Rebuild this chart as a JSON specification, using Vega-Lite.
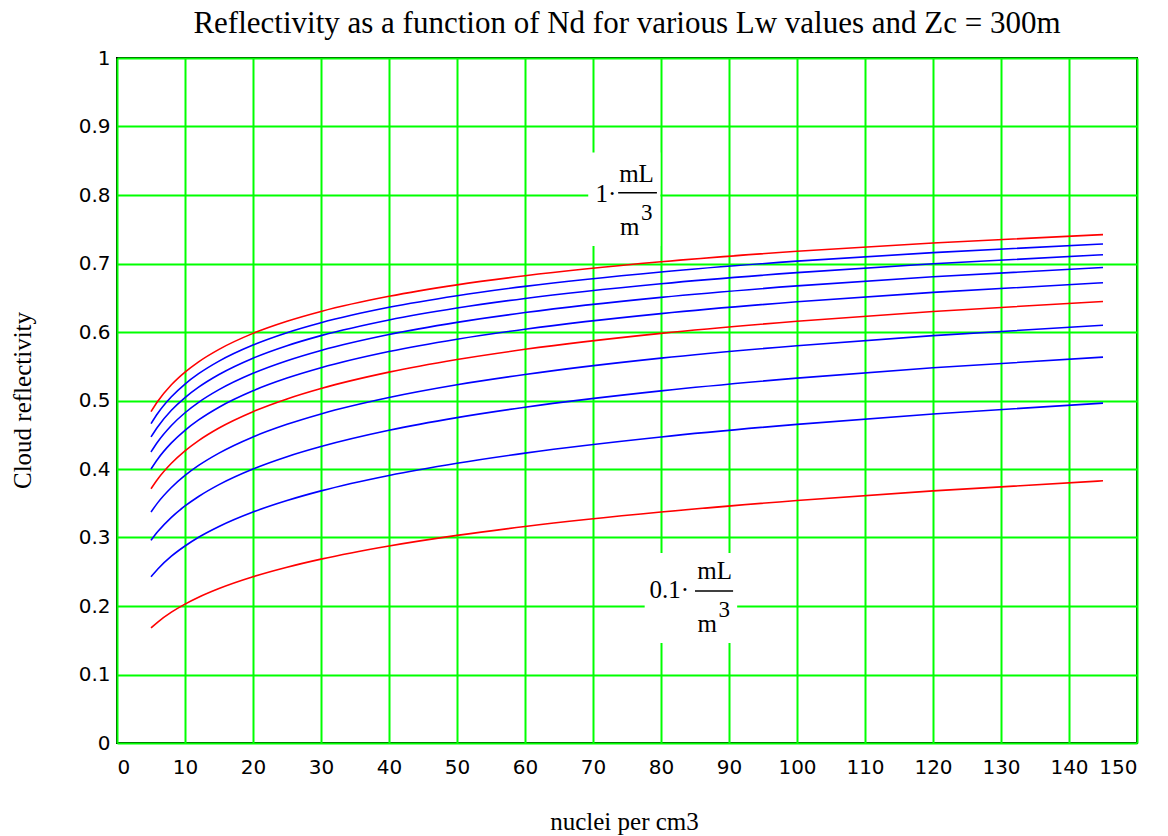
{
  "$schema": "https://vega.github.io/schema/vega-lite/v6.json",
  "width": 1020,
  "height": 685,
  "autosize": {"type": "none"},
  "padding": {"left": 117, "top": 58, "right": 31, "bottom": 93},
  "background": "white",
  "title": {
    "text": "Reflectivity as a function of Nd for various Lw values and Zc = 300m",
    "font": "Liberation Serif",
    "fontSize": 31,
    "fontWeight": "normal",
    "color": "black",
    "anchor": "middle",
    "frame": "group",
    "baseline": "alphabetic",
    "offset": 24,
    "dy": 40
  },
  "config": {
    "view": {"stroke": "black", "strokeWidth": 2},
    "axis": {
      "grid": true,
      "gridColor": "#00ff00",
      "gridWidth": 2,
      "gridOpacity": 1,
      "domain": false,
      "ticks": false,
      "labelFont": "DejaVu Sans",
      "labelFontSize": 20,
      "labelColor": "black",
      "titleFont": "Liberation Serif",
      "titleFontSize": 25,
      "titleFontWeight": "normal",
      "titleColor": "black"
    }
  },
  "datasets": {
    "curves": [
      {"nd": 5, "lw": "0.1", "r": 0.1680}, {"nd": 6, "lw": "0.1", "r": 0.1766}, {"nd": 8, "lw": "0.1", "r": 0.1910}, {"nd": 10, "lw": "0.1", "r": 0.2028}, {"nd": 12, "lw": "0.1", "r": 0.2128}, {"nd": 15, "lw": "0.1", "r": 0.2255}, {"nd": 20, "lw": "0.1", "r": 0.2427}, {"nd": 25, "lw": "0.1", "r": 0.2566}, {"nd": 30, "lw": "0.1", "r": 0.2684}, {"nd": 40, "lw": "0.1", "r": 0.2876}, {"nd": 50, "lw": "0.1", "r": 0.3031}, {"nd": 60, "lw": "0.1", "r": 0.3161}, {"nd": 80, "lw": "0.1", "r": 0.3372}, {"nd": 100, "lw": "0.1", "r": 0.3540}, {"nd": 120, "lw": "0.1", "r": 0.3680}, {"nd": 145, "lw": "0.1", "r": 0.3828},
      {"nd": 5, "lw": "0.2", "r": 0.2427}, {"nd": 6, "lw": "0.2", "r": 0.2541}, {"nd": 8, "lw": "0.2", "r": 0.2727}, {"nd": 10, "lw": "0.2", "r": 0.2876}, {"nd": 12, "lw": "0.2", "r": 0.3003}, {"nd": 15, "lw": "0.2", "r": 0.3161}, {"nd": 20, "lw": "0.2", "r": 0.3372}, {"nd": 25, "lw": "0.2", "r": 0.3540}, {"nd": 30, "lw": "0.2", "r": 0.3681}, {"nd": 40, "lw": "0.2", "r": 0.3906}, {"nd": 50, "lw": "0.2", "r": 0.4084}, {"nd": 60, "lw": "0.2", "r": 0.4232}, {"nd": 80, "lw": "0.2", "r": 0.4468}, {"nd": 100, "lw": "0.2", "r": 0.4652}, {"nd": 120, "lw": "0.2", "r": 0.4804}, {"nd": 145, "lw": "0.2", "r": 0.4961},
      {"nd": 5, "lw": "0.3", "r": 0.2958}, {"nd": 6, "lw": "0.3", "r": 0.3086}, {"nd": 8, "lw": "0.3", "r": 0.3294}, {"nd": 10, "lw": "0.3", "r": 0.3460}, {"nd": 12, "lw": "0.3", "r": 0.3599}, {"nd": 15, "lw": "0.3", "r": 0.3772}, {"nd": 20, "lw": "0.3", "r": 0.4000}, {"nd": 25, "lw": "0.3", "r": 0.4180}, {"nd": 30, "lw": "0.3", "r": 0.4328}, {"nd": 40, "lw": "0.3", "r": 0.4565}, {"nd": 50, "lw": "0.3", "r": 0.4750}, {"nd": 60, "lw": "0.3", "r": 0.4902}, {"nd": 80, "lw": "0.3", "r": 0.5141}, {"nd": 100, "lw": "0.3", "r": 0.5327}, {"nd": 120, "lw": "0.3", "r": 0.5478}, {"nd": 145, "lw": "0.3", "r": 0.5633},
      {"nd": 5, "lw": "0.4", "r": 0.3372}, {"nd": 6, "lw": "0.4", "r": 0.3509}, {"nd": 8, "lw": "0.4", "r": 0.3730}, {"nd": 10, "lw": "0.4", "r": 0.3906}, {"nd": 12, "lw": "0.4", "r": 0.4052}, {"nd": 15, "lw": "0.4", "r": 0.4232}, {"nd": 20, "lw": "0.4", "r": 0.4468}, {"nd": 25, "lw": "0.4", "r": 0.4652}, {"nd": 30, "lw": "0.4", "r": 0.4804}, {"nd": 40, "lw": "0.4", "r": 0.5043}, {"nd": 50, "lw": "0.4", "r": 0.5229}, {"nd": 60, "lw": "0.4", "r": 0.5380}, {"nd": 80, "lw": "0.4", "r": 0.5618}, {"nd": 100, "lw": "0.4", "r": 0.5800}, {"nd": 120, "lw": "0.4", "r": 0.5947}, {"nd": 145, "lw": "0.4", "r": 0.6098},
      {"nd": 5, "lw": "0.5", "r": 0.3712}, {"nd": 6, "lw": "0.5", "r": 0.3855}, {"nd": 8, "lw": "0.5", "r": 0.4084}, {"nd": 10, "lw": "0.5", "r": 0.4265}, {"nd": 12, "lw": "0.5", "r": 0.4415}, {"nd": 15, "lw": "0.5", "r": 0.4599}, {"nd": 20, "lw": "0.5", "r": 0.4837}, {"nd": 25, "lw": "0.5", "r": 0.5023}, {"nd": 30, "lw": "0.5", "r": 0.5175}, {"nd": 40, "lw": "0.5", "r": 0.5414}, {"nd": 50, "lw": "0.5", "r": 0.5598}, {"nd": 60, "lw": "0.5", "r": 0.5747}, {"nd": 80, "lw": "0.5", "r": 0.5980}, {"nd": 100, "lw": "0.5", "r": 0.6157}, {"nd": 120, "lw": "0.5", "r": 0.6300}, {"nd": 145, "lw": "0.5", "r": 0.6446},
      {"nd": 5, "lw": "0.6", "r": 0.4000}, {"nd": 6, "lw": "0.6", "r": 0.4147}, {"nd": 8, "lw": "0.6", "r": 0.4381}, {"nd": 10, "lw": "0.6", "r": 0.4565}, {"nd": 12, "lw": "0.6", "r": 0.4716}, {"nd": 15, "lw": "0.6", "r": 0.4902}, {"nd": 20, "lw": "0.6", "r": 0.5142}, {"nd": 25, "lw": "0.6", "r": 0.5327}, {"nd": 30, "lw": "0.6", "r": 0.5478}, {"nd": 40, "lw": "0.6", "r": 0.5714}, {"nd": 50, "lw": "0.6", "r": 0.5895}, {"nd": 60, "lw": "0.6", "r": 0.6041}, {"nd": 80, "lw": "0.6", "r": 0.6268}, {"nd": 100, "lw": "0.6", "r": 0.6441}, {"nd": 120, "lw": "0.6", "r": 0.6578}, {"nd": 145, "lw": "0.6", "r": 0.6719},
      {"nd": 5, "lw": "0.7", "r": 0.4249}, {"nd": 6, "lw": "0.7", "r": 0.4398}, {"nd": 8, "lw": "0.7", "r": 0.4635}, {"nd": 10, "lw": "0.7", "r": 0.4821}, {"nd": 12, "lw": "0.7", "r": 0.4973}, {"nd": 15, "lw": "0.7", "r": 0.5158}, {"nd": 20, "lw": "0.7", "r": 0.5397}, {"nd": 25, "lw": "0.7", "r": 0.5581}, {"nd": 30, "lw": "0.7", "r": 0.5731}, {"nd": 40, "lw": "0.7", "r": 0.5964}, {"nd": 50, "lw": "0.7", "r": 0.6141}, {"nd": 60, "lw": "0.7", "r": 0.6284}, {"nd": 80, "lw": "0.7", "r": 0.6506}, {"nd": 100, "lw": "0.7", "r": 0.6673}, {"nd": 120, "lw": "0.7", "r": 0.6806}, {"nd": 145, "lw": "0.7", "r": 0.6942},
      {"nd": 5, "lw": "0.8", "r": 0.4468}, {"nd": 6, "lw": "0.8", "r": 0.4618}, {"nd": 8, "lw": "0.8", "r": 0.4857}, {"nd": 10, "lw": "0.8", "r": 0.5043}, {"nd": 12, "lw": "0.8", "r": 0.5195}, {"nd": 15, "lw": "0.8", "r": 0.5380}, {"nd": 20, "lw": "0.8", "r": 0.5618}, {"nd": 25, "lw": "0.8", "r": 0.5800}, {"nd": 30, "lw": "0.8", "r": 0.5947}, {"nd": 40, "lw": "0.8", "r": 0.6176}, {"nd": 50, "lw": "0.8", "r": 0.6350}, {"nd": 60, "lw": "0.8", "r": 0.6490}, {"nd": 80, "lw": "0.8", "r": 0.6705}, {"nd": 100, "lw": "0.8", "r": 0.6867}, {"nd": 120, "lw": "0.8", "r": 0.6996}, {"nd": 145, "lw": "0.8", "r": 0.7127},
      {"nd": 5, "lw": "0.9", "r": 0.4662}, {"nd": 6, "lw": "0.9", "r": 0.4814}, {"nd": 8, "lw": "0.9", "r": 0.5054}, {"nd": 10, "lw": "0.9", "r": 0.5240}, {"nd": 12, "lw": "0.9", "r": 0.5391}, {"nd": 15, "lw": "0.9", "r": 0.5575}, {"nd": 20, "lw": "0.9", "r": 0.5810}, {"nd": 25, "lw": "0.9", "r": 0.5990}, {"nd": 30, "lw": "0.9", "r": 0.6135}, {"nd": 40, "lw": "0.9", "r": 0.6360}, {"nd": 50, "lw": "0.9", "r": 0.6530}, {"nd": 60, "lw": "0.9", "r": 0.6666}, {"nd": 80, "lw": "0.9", "r": 0.6876}, {"nd": 100, "lw": "0.9", "r": 0.7034}, {"nd": 120, "lw": "0.9", "r": 0.7159}, {"nd": 145, "lw": "0.9", "r": 0.7285},
      {"nd": 5, "lw": "1.0", "r": 0.4837}, {"nd": 6, "lw": "1.0", "r": 0.4989}, {"nd": 8, "lw": "1.0", "r": 0.5229}, {"nd": 10, "lw": "1.0", "r": 0.5414}, {"nd": 12, "lw": "1.0", "r": 0.5565}, {"nd": 15, "lw": "1.0", "r": 0.5747}, {"nd": 20, "lw": "1.0", "r": 0.5980}, {"nd": 25, "lw": "1.0", "r": 0.6157}, {"nd": 30, "lw": "1.0", "r": 0.6300}, {"nd": 40, "lw": "1.0", "r": 0.6521}, {"nd": 50, "lw": "1.0", "r": 0.6688}, {"nd": 60, "lw": "1.0", "r": 0.6821}, {"nd": 80, "lw": "1.0", "r": 0.7025}, {"nd": 100, "lw": "1.0", "r": 0.7178}, {"nd": 120, "lw": "1.0", "r": 0.7300}, {"nd": 145, "lw": "1.0", "r": 0.7422}
    ],
    "boxes": [
      {"x1": 69.3, "x2": 79.9, "y1": 0.862, "y2": 0.7255},
      {"x1": 77.6, "x2": 91.2, "y1": 0.2774, "y2": 0.146}
    ],
    "bars": [
      {"x1": 73.7, "x2": 79.4, "y": 0.8034},
      {"x1": 85.0, "x2": 90.6, "y": 0.2219}
    ],
    "labels": [
      {"x": 71.9, "y": 0.7902, "t": "1·"},
      {"x": 76.4, "y": 0.8194, "t": "mL"},
      {"x": 75.4, "y": 0.7416, "t": "m"},
      {"x": 81.2, "y": 0.2121, "t": "0.1·"},
      {"x": 87.9, "y": 0.2390, "t": "mL"},
      {"x": 86.8, "y": 0.1625, "t": "m"}
    ],
    "sups": [
      {"x": 77.9, "y": 0.7635, "t": "3"},
      {"x": 89.3, "y": 0.1844, "t": "3"}
    ]
  },
  "layer": [
    {
      "data": {"name": "curves"},
      "mark": {"type": "line", "strokeWidth": 1.6, "interpolate": "monotone"},
      "encoding": {
        "x": {
          "field": "nd", "type": "quantitative",
          "scale": {"domain": [0, 150], "nice": false},
          "axis": {
            "values": [0, 10, 20, 30, 40, 50, 60, 70, 80, 90, 100, 110, 120, 130, 140, 150],
            "format": "d",
            "labelPadding": 14,
            "title": "nuclei per cm3",
            "titleX": 507,
            "titleY": 86,
            "titleAnchor": "middle",
            "titleAlign": "center",
            "titleBaseline": "alphabetic"
          }
        },
        "y": {
          "field": "r", "type": "quantitative",
          "scale": {"domain": [0, 1], "nice": false},
          "axis": {
            "values": [0, 0.1, 0.2, 0.3, 0.4, 0.5, 0.6, 0.7, 0.8, 0.9, 1],
            "format": ".1~f",
            "labelPadding": 7,
            "title": "Cloud reflectivity",
            "titleAngle": -90,
            "titleX": -87,
            "titleY": 342,
            "titleAlign": "center",
            "titleBaseline": "alphabetic"
          }
        },
        "color": {
          "field": "lw", "type": "nominal",
          "scale": {
            "domain": ["0.1", "0.2", "0.3", "0.4", "0.5", "0.6", "0.7", "0.8", "0.9", "1.0"],
            "range": ["#ff0000", "#0000ff", "#0000ff", "#0000ff", "#ff0000", "#0000ff", "#0000ff", "#0000ff", "#0000ff", "#ff0000"]
          },
          "legend": null
        }
      }
    },
    {
      "data": {"name": "boxes"},
      "mark": {"type": "rect", "fill": "white"},
      "encoding": {
        "x": {"field": "x1", "type": "quantitative"},
        "x2": {"field": "x2"},
        "y": {"field": "y1", "type": "quantitative"},
        "y2": {"field": "y2"}
      }
    },
    {
      "data": {"name": "bars"},
      "mark": {"type": "rule", "color": "black", "strokeWidth": 1.5},
      "encoding": {
        "x": {"field": "x1", "type": "quantitative"},
        "x2": {"field": "x2"},
        "y": {"field": "y", "type": "quantitative"}
      }
    },
    {
      "data": {"name": "labels"},
      "mark": {"type": "text", "font": "Liberation Serif", "fontSize": 25, "color": "black", "align": "center", "baseline": "alphabetic"},
      "encoding": {
        "x": {"field": "x", "type": "quantitative"},
        "y": {"field": "y", "type": "quantitative"},
        "text": {"field": "t"}
      }
    },
    {
      "data": {"name": "sups"},
      "mark": {"type": "text", "font": "Liberation Serif", "fontSize": 23, "color": "black", "align": "center", "baseline": "alphabetic"},
      "encoding": {
        "x": {"field": "x", "type": "quantitative"},
        "y": {"field": "y", "type": "quantitative"},
        "text": {"field": "t"}
      }
    }
  ]
}
